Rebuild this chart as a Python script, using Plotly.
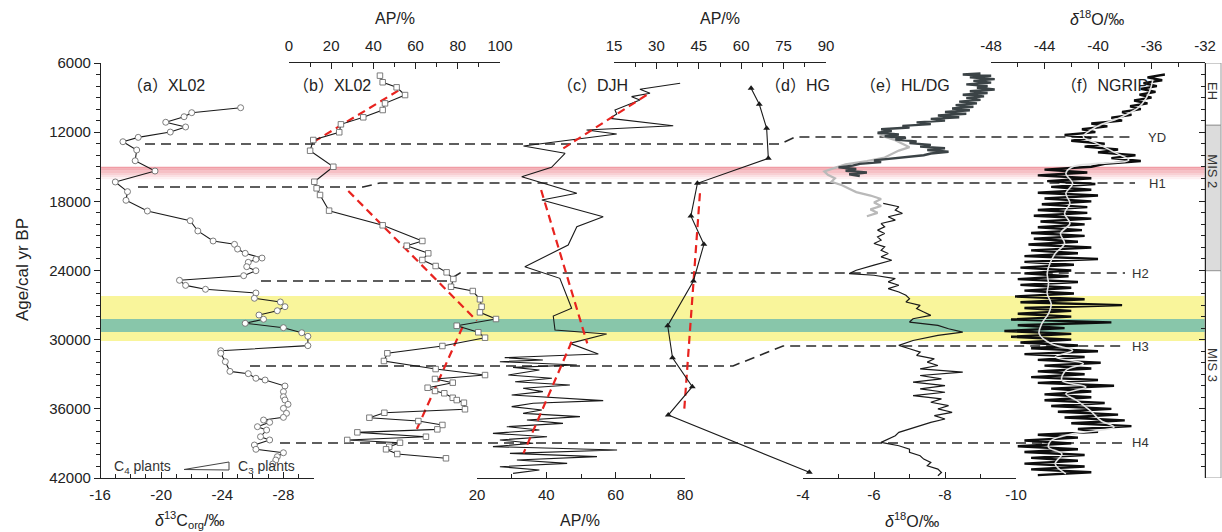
import plotly.graph_objects as go

W, H = 1222, 532
def px(x): return x / W
def py(y): return 1 - y / H

# ---------------- data ----------------
y_ticks = [6000, 12000, 18000, 24000, 30000, 36000, 42000]
y_ticktext = ["6000", "12000", "18000", "24000", "30000", "36000", "42000"]

# (a) XL02 d13C org
a_age = [9880,10310,10660,11140,11550,11990,12450,12830,13550,14480,15370,16320,17160,17910,18840,19680,20570,21440,21730,22140,
         22510,22920,23030,23290,23670,24020,24450,24850,25290,25630,25950,26410,26730,27140,27490,27860,28230,28580,28960,29400,
         29710,30520,30960,31180,31910,32750,32950,33350,33500,34020,34510,34950,35230,35610,35960,36390,36740,36970,37170,37550,
         37840,38420,38700,39140,39510,39810,40150,40440,40790]
a_d13c = [-25.2,-22.0,-21.5,-20.3,-21.6,-20.6,-18.5,-17.5,-18.4,-18.3,-19.6,-17.0,-17.8,-17.7,-19.1,-21.9,-22.4,-23.4,-24.8,-25.0,
          -25.5,-26.6,-26.2,-25.7,-25.6,-26.2,-25.4,-21.2,-21.6,-22.9,-26.2,-26.1,-27.8,-28.1,-27.6,-26.4,-26.7,-25.5,-28.0,-29.2,
          -29.6,-29.6,-23.9,-23.9,-24.2,-24.5,-25.7,-26.2,-26.8,-28.1,-28.0,-28.0,-28.1,-28.3,-28.0,-28.2,-28.0,-26.7,-27.1,-26.3,
          -26.9,-26.5,-27.1,-26.1,-26.2,-28.0,-27.6,-27.5,-27.3]
a_ticks = [-16, -20, -24, -28]
a_ticktext = ["-16", "-20", "-24", "-28"]

# (b) XL02 AP
b_age = [7100,7670,8110,8780,9500,10080,10710,11320,12010,12680,13610,15000,16300,16870,17450,18810,20080,21440,21850,22510,
         23090,23610,24160,24740,25410,25780,26500,27140,27630,28210,28790,29360,29830,30550,31180,31850,32550,33070,33410,33730,
         34170,34450,34650,35040,35240,35470,36040,36340,36770,37060,37400,37780,38040,38420,38700,38940,39290,39510,39920,40290]
b_ap = [43.1,44.4,51.0,55.0,45.5,44.4,35.2,24.6,23.8,11.5,10.0,21.0,12.0,13.1,14.7,19.0,44.4,63.2,55.8,66.0,
        63.2,69.5,74.7,77.9,76.8,87.1,90.5,91.3,90.5,98.1,79.5,89.7,92.9,72.7,46.6,45.0,69.5,92.9,69.2,77.6,
        65.7,69.2,73.6,77.6,79.5,82.9,83.4,45.2,38.1,61.3,72.7,70.3,32.4,64.9,27.6,52.6,47.5,46.0,51.3,74.4]
b_trend_age = [[8400, 12910], [17100, 28360], [28880, 38120]]
b_trend_ap = [[51.8, 11.0], [28.1, 89.0], [82.3, 59.7]]
b_ticks = [0, 20, 40, 60, 80, 100]

# (c) DJH AP
c_age = [7760,8280,8630,8920,9210,10080,10420,10800,11440,11810,12160,12390,13200,13830,15050,15860,17300,17880,19330,20200,
         21790,23670,24680,27280,27950,29160,29510,30320,31240,
         31560,31760,31910,32200,32400,32630,33070,33350,33650,33930,34220,34510,34800,35090,35290,35520,35810,36100,36390,36680,
         36970,37260,37550,37840,38130,38420,38700,38990,39280,39570,39860,40150,40440,40730,41020,41310,41600]
c_ap = [78.6,67.0,69.9,64.6,67.0,59.8,60.3,58.4,76.6,51.6,60.3,54.5,33.4,45.4,41.5,32.9,48.8,38.7,56.4,48.8,
        46.3,33.8,43.9,47.3,42.0,42.5,57.4,46.8,55.0,
        28.0,39.0,26.6,48.8,30.4,38.0,29.0,41.6,31.0,46.8,33.3,39.0,30.0,44.0,56.4,36.2,30.0,38.7,33.3,49.7,
        34.4,44.8,28.6,38.0,24.6,40.2,26.6,36.2,24.6,60.4,29.5,54.6,31.5,46.0,26.6,38.0,30.4]
c_trend_age = [[8780, 13400], [17020, 30320], [30180, 39860]]
c_trend_ap = [[68.9, 44.9], [38.5, 51.8], [47.3, 33.4]]
c_ticks = [20, 40, 60, 80]

# (d) HG AP
d_age = [8200,9580,11660,14270,16440,19270,21730,24910,28790,31570,34080,36540,41510]
d_ap = [63.5,66.4,69.0,69.6,44.5,42.2,46.8,43.1,34.0,35.7,42.7,34.2,84.1]
d_trend_age = [17300, 36250]
d_trend_ap = [45.4, 39.8]
d_ticks = [15, 30, 45, 60, 75, 90]

# (e) HL / DG speleothem d18O
e_hol_age = [6900,7000,7100,7250,7400,7550,7700,7850,8000,8150,8300,8450,8600,8750,8900,9050,9200,9350,9500,9650,
             9800,9950,10100,10250,10400,10550,10700,10850,11000,11150,11300,11450,11600,11750,11900,12050,12200,12350,12500,12650,
             12800,12950,13100,13250,13400,13550,13700,13850,14000,14150,14300,14450,14600,14750,14900,15050,15200,15350,15500,15650,15800]
e_hol = [-9.0,-8.5,-9.3,-8.7,-9.4,-8.8,-9.3,-8.6,-9.2,-8.9,-9.4,-8.7,-9.2,-8.5,-9.1,-8.6,-9.0,-8.4,-8.9,-8.3,
         -8.8,-8.2,-8.7,-8.0,-8.6,-7.8,-8.4,-7.6,-8.0,-7.2,-7.6,-6.8,-7.0,-6.2,-6.5,-6.1,-6.7,-6.3,-6.9,-6.6,
         -7.2,-7.0,-7.6,-7.3,-8.0,-7.5,-8.1,-7.6,-7.4,-6.9,-6.5,-6.0,-6.2,-5.6,-5.4,-5.0,-5.5,-5.2,-5.8,-5.3,-5.6]
e_dg_age = [12100,12400,12700,13000,13300,13600,13900,14200,14500,14800,15100,15400,15700,16000,16300,16600,16900,17200,17500,17800,
            18100,18400,18700,19000,19300]
e_dg = [-6.1,-6.3,-6.6,-6.8,-7.0,-6.7,-6.5,-6.3,-5.8,-5.2,-4.9,-4.6,-4.7,-4.9,-4.8,-5.1,-5.3,-5.5,-5.9,-6.2,
        -6.0,-6.2,-5.9,-6.1,-5.8]
e_hl_age = [18180,18470,18760,19050,19340,19630,19920,20210,20500,20790,21080,21370,21660,21950,22240,22530,22820,23110,23540,23980,
            24270,24410,24700,24990,25280,25570,25860,26150,26440,26730,27020,27310,27600,27890,28180,28470,28760,29050,29340,29630,
            30070,30500,30790,31080,31370,31660,31950,32240,32530,32820,33110,33400,33690,33980,34270,34560,34850,35140,35430,35720,
            36010,36300,36590,36880,37170,37460,37750,38040,38330,38620,38910,39200,39490,39780,40070,40360,40650,40940,41230,41520,41810]
e_hl = [-6.26,-6.7,-6.6,-6.8,-6.4,-6.6,-6.2,-6.3,-6.1,-6.3,-6.1,-6.2,-6.0,-6.3,-6.2,-6.4,-6.2,-6.5,-6.0,-5.5,
        -5.3,-6.0,-6.6,-6.4,-6.7,-6.4,-6.7,-6.9,-7.0,-6.9,-7.3,-7.2,-7.4,-7.6,-7.1,-7.0,-7.8,-8.1,-8.5,-7.8,
        -7.1,-6.7,-7.0,-7.3,-7.2,-7.7,-7.5,-7.8,-7.3,-8.5,-7.3,-7.9,-7.1,-8.0,-7.3,-8.0,-7.1,-7.9,-7.6,-8.1,
        -7.8,-8.2,-7.7,-8.0,-7.6,-7.3,-7.0,-6.7,-6.6,-6.4,-6.2,-6.7,-7.0,-7.0,-7.3,-7.4,-7.6,-7.5,-7.8,-7.9,-7.8]
e_ticks = [-4, -6, -8, -10]
e_ticktext = ["-4", "-6", "-8", "-10"]

# (f) NGRIP d18O (raw every 250 yr from 7000 and smoothed)
f_raw_age = list(range(7000, 42000, 250))
f_raw = [-35.0,-36.3,-35.2,-36.6, -35.6,-36.8,-35.7,-36.9, -36.0,-37.3,-36.3,-37.6, -36.8,-38.2,-37.5,-39.0,
         -38.2,-40.5,-39.3,-41.2, -40.2,-42.5,-40.5,-42.0, -39.5,-41.0,-38.5,-40.0, -37.2,-39.0,-36.8,-39.5,
         -40.5,-44.0,-40.8,-44.5, -40.5,-43.8,-40.2,-43.5, -40.5,-44.5,-40.0,-44.0, -40.5,-44.2,-40.8,-44.5,
         -40.8,-44.8,-40.5,-44.3, -41.0,-44.5,-41.2,-45.0, -41.0,-44.8,-41.5,-45.2, -40.5,-45.0,-41.5,-45.5,
         -40.0,-45.5,-41.8,-45.8, -42.0,-45.5,-42.2,-46.0, -41.5,-45.8,-42.0,-45.5, -41.8,-46.2,-41.0,-45.8,
         -38.2,-45.5,-42.0,-46.0, -42.0,-46.5,-39.0,-46.0, -42.5,-47.0,-42.0,-46.5, -42.0,-45.8,-41.5,-45.0,
         -40.0,-45.5,-41.0,-44.5, -39.8,-44.0,-40.5,-44.5, -41.0,-45.0,-40.0,-44.5, -38.8,-43.5,-40.5,-44.0,
         -40.5,-44.0,-39.5,-43.5, -39.0,-43.0,-38.5,-42.5, -38.0,-42.0,-37.5,-41.5, -40.0,-44.5,-41.5,-45.5,
         -42.0,-46.0,-41.5,-45.5, -41.0,-45.0,-41.5,-45.5, -41.0,-45.0,-40.5,-44.5]
f_smooth_age = [7470,8620,9790,10660,11520,12400,12970,13840,14420,15000,15580,16450,17310,18180,19050,19920,20790,21660,22530,23400,
                24270,25140,26010,26880,27740,28610,29480,30350,30930,31500,32080,32660,33530,34110,34690,35270,36140,37010,37590,38170,
                38750,39330,39910,40780,41640]
f_smooth = [-35.9,-36.2,-36.9,-38.2,-40.1,-41.1,-40.1,-38.6,-37.7,-41.9,-42.4,-41.9,-42.4,-42.1,-42.5,-42.1,-42.8,-42.5,-43.2,-43.6,
            -43.8,-43.7,-43.8,-43.5,-43.7,-44.2,-44.4,-43.5,-41.9,-43.2,-41.1,-42.4,-42.7,-40.9,-42.4,-41.6,-40.6,-39.8,-38.8,-41.9,
            -43.5,-43.7,-42.7,-43.2,-42.4]
f_ticks = [-48, -44, -40, -36, -32]
f_ticktext = ["-48", "-44", "-40", "-36", "-32"]

# events (H lines) and bands
event_names = ["YD", "H1", "H2", "H3", "H4"]
event_age_left = [13030, 16760, 24910, 32280, 38960]
event_age_right = [12420, 16410, 24220, 30550, 38960]
pink_band = [14990, 16090]
yellow_band = [26210, 30110]
green_band = [28210, 29330]
stage_names = ["EH", "MIS 2", "MIS 3"]
stage_bounds = [[6000, 11400], [11400, 24020], [24020, 42000]]

# ---------------- figure ----------------
BLACK = "#1a1a1a"
RED = "#e8231f"
fig = go.Figure()

fig.add_trace(go.Scatter(x=a_d13c, y=a_age, xaxis="x", yaxis="y", mode="lines+markers",
                         line=dict(color=BLACK, width=1.1),
                         marker=dict(symbol="circle", size=6, color="white", line=dict(color="#6e6e6e", width=0.9))))

for ta, tv in zip(b_trend_age, b_trend_ap):
    fig.add_trace(go.Scatter(x=tv, y=ta, xaxis="x2", yaxis="y", mode="lines",
                             line=dict(color=RED, width=2.2, dash="8px,5px")))
fig.add_trace(go.Scatter(x=b_ap, y=b_age, xaxis="x2", yaxis="y", mode="lines+markers",
                         line=dict(color=BLACK, width=1.1),
                         marker=dict(symbol="square", size=5.5, color="white", line=dict(color="#6e6e6e", width=0.9))))

fig.add_trace(go.Scatter(x=c_ap, y=c_age, xaxis="x3", yaxis="y", mode="lines",
                         line=dict(color=BLACK, width=1.1)))
for ta, tv in zip(c_trend_age, c_trend_ap):
    fig.add_trace(go.Scatter(x=tv, y=ta, xaxis="x3", yaxis="y", mode="lines",
                             line=dict(color=RED, width=2.2, dash="8px,5px")))

fig.add_trace(go.Scatter(x=d_trend_ap, y=d_trend_age, xaxis="x4", yaxis="y", mode="lines",
                         line=dict(color=RED, width=2.2, dash="8px,5px")))
fig.add_trace(go.Scatter(x=d_ap, y=d_age, xaxis="x4", yaxis="y", mode="lines+markers",
                         line=dict(color=BLACK, width=1.1),
                         marker=dict(symbol="triangle-up", size=6, color=BLACK)))

fig.add_trace(go.Scatter(x=e_dg, y=e_dg_age, xaxis="x5", yaxis="y", mode="lines",
                         line=dict(color="#b9b9b9", width=2.2)))
fig.add_trace(go.Scatter(x=e_hol, y=e_hol_age, xaxis="x5", yaxis="y", mode="lines",
                         line=dict(color="#3b4346", width=2.4)))
fig.add_trace(go.Scatter(x=e_hl, y=e_hl_age, xaxis="x5", yaxis="y", mode="lines",
                         line=dict(color=BLACK, width=1.2)))

fig.add_trace(go.Scatter(x=f_raw, y=f_raw_age, xaxis="x6", yaxis="y", mode="lines",
                         line=dict(color="#0d0d0d", width=2.4)))
fig.add_trace(go.Scatter(x=f_smooth, y=f_smooth_age, xaxis="x6", yaxis="y", mode="lines",
                         line=dict(color="#e4e4e4", width=1.6, shape="spline")))
fig.add_trace(go.Scatter(x=[None], y=[None], xaxis="x6", yaxis="y2", mode="lines", showlegend=False))

AX = dict(showline=True, linecolor="#222", linewidth=1.2, showgrid=False, zeroline=False, automargin=False,
          tickcolor="#222", tickwidth=1.2, tickfont=dict(size=15, color="#222"))

def xax(x0, x1, rng, side, ticks, ticktext, minor_tick0, minor_dtick):
    d = dict(AX)
    d.update(domain=[px(x0), px(x1)], range=rng, side=side, anchor="y",
             ticks="inside", ticklen=6, tickmode="array", tickvals=ticks, ticktext=ticktext,
             ticklabelstandoff=5 if side == "top" else 3,
             minor=dict(ticks="inside", ticklen=3.5, tickmode="linear", tick0=minor_tick0, dtick=minor_dtick,
                        tickcolor="#222", tickwidth=1))
    return d

ydom = [py(478), py(63)]
layout_axes = dict(
    xaxis=xax(100, 314, [-16, -30], "bottom", a_ticks, a_ticktext, -16, -2),
    xaxis2=xax(289, 500, [0, 100], "top", b_ticks, [str(v) for v in b_ticks], 0, 10),
    xaxis3=xax(477, 685, [20, 80], "bottom", c_ticks, [str(v) for v in c_ticks], 20, 10),
    xaxis4=xax(614, 826, [15, 90], "top", d_ticks, [str(v) for v in d_ticks], 15, 7.5),
    xaxis5=xax(803, 1016, [-4, -10], "bottom", e_ticks, e_ticktext, -4, -1),
    xaxis6=xax(991, 1205, [-48, -32], "top", f_ticks, f_ticktext, -48, 2),
)
yax = dict(AX)
yax.update(domain=ydom, range=[42000, 6000], anchor="free", position=px(100), side="left",
           ticks="outside", ticklen=6, tickmode="array", tickvals=y_ticks, ticktext=y_ticktext,
           minor=dict(ticks="outside", ticklen=3.5, tickmode="linear", tick0=6000, dtick=1000,
                      tickcolor="#222", tickwidth=1))
yax2 = dict(AX)
yax2.update(overlaying="y", range=[42000, 6000], anchor="free", position=px(1205), side="right",
            ticks="inside", ticklen=6, tickmode="array", tickvals=y_ticks, showticklabels=False,
            minor=dict(ticks="inside", ticklen=3.5, tickmode="linear", tick0=6000, dtick=1000,
                       tickcolor="#222", tickwidth=1))

shapes = []
# pink gradient band
pink_cols = ["#f09ca5", "#f3aeb5", "#f6c0c5", "#f8d0d4", "#fbe0e3", "#fdeff1"]
n = len(pink_cols)
for i, c in enumerate(pink_cols):
    y0 = pink_band[0] + (pink_band[1] - pink_band[0]) * i / n
    y1 = pink_band[0] + (pink_band[1] - pink_band[0]) * (i + 1) / n
    shapes.append(dict(type="rect", xref="paper", yref="y", x0=px(100), x1=px(1205), y0=y0, y1=y1,
                       fillcolor=c, line=dict(width=0), layer="below"))
shapes.append(dict(type="rect", xref="paper", yref="y", x0=px(100), x1=px(1205), y0=yellow_band[0], y1=yellow_band[1],
                   fillcolor="#f9f59b", line=dict(width=0), layer="below"))
shapes.append(dict(type="rect", xref="paper", yref="y", x0=px(100), x1=px(1205), y0=green_band[0], y1=green_band[1],
                   fillcolor="#88c6aa", line=dict(width=0), layer="below"))

# event dashed lines (x layout positions in px: start, bend start, bend end, end)
ev_x = [(145, 780, 795, 1133), (138, 363, 380, 1135), (261, 447, 460, 1125), (250, 733, 783, 1125), (280, 700, 700, 1125)]
ev_lab_x = [1157, 1157, 1140, 1140, 1140]
annotations = []
for name, al, ar, (xs, xb0, xb1, xe), lx in zip(event_names, event_age_left, event_age_right, ev_x, ev_lab_x):
    path = f"M {px(xs)},{al} L {px(xb0)},{al} L {px(xb1)},{ar} L {px(xe)},{ar}"
    shapes.append(dict(type="path", xref="paper", yref="y", path=path,
                       line=dict(color="#2a2a2a", width=1.6, dash="10px,6px"), layer="below"))
    annotations.append(dict(x=px(lx), y=ar, xref="paper", yref="y", text=name, showarrow=False,
                            font=dict(size=13, color="#333"), xanchor="center", yanchor="middle"))

# stage boxes on right
stage_fill = ["white", "#dcdcdc", "white"]
for nm, (s0, s1), fc in zip(stage_names, stage_bounds, stage_fill):
    shapes.append(dict(type="rect", xref="paper", yref="y", x0=px(1205), x1=px(1221), y0=s0, y1=s1,
                       fillcolor=fc, line=dict(color="#9a9a9a", width=1), layer="below"))
stage_label_age = [8430, 15400, 32200]
for nm, ag in zip(stage_names, stage_label_age):
    annotations.append(dict(x=px(1213), y=ag, xref="paper", yref="y", text=nm, showarrow=False, textangle=90,
                            font=dict(size=13, color="#333"), xanchor="center", yanchor="middle"))

# legend wedge C4 -> C3
shapes.append(dict(type="path", xref="paper", yref="paper",
                   path=f"M {px(184)},{py(469.5)} L {px(229)},{py(462)} L {px(229)},{py(470)} Z",
                   line=dict(color="#444", width=1), fillcolor="rgba(0,0,0,0)"))

FONT_CJK = "Liberation Sans, Noto Sans CJK SC, Arial, sans-serif"
def ann(x, y, text, size=16, angle=0, color="#222"):
    annotations.append(dict(x=px(x), y=py(y), xref="paper", yref="paper", text=text, showarrow=False,
                            textangle=angle, font=dict(size=size, color=color, family=FONT_CJK),
                            xanchor="center", yanchor="middle"))

ann(22, 270, "Age/cal yr BP", 17, -90)
ann(395, 18, "AP/%", 16)
ann(720, 18, "AP/%", 16)
ann(1097, 18, "<i>δ</i><sup>18</sup>O/‰", 16)
ann(190, 520, "<i>δ</i><sup>13</sup>C<sub>org</sub>/‰", 16)
ann(580, 520, "AP/%", 16)
ann(912, 520, "<i>δ</i><sup>18</sup>O/‰", 16)
ann(166, 86, "（a）XL02", 16)
ann(332, 86, "（b）XL02", 16)
ann(592, 86, "（c）DJH", 16)
ann(797, 86, "（d）HG", 16)
ann(905, 86, "（e）HL/DG", 16)
ann(1104, 86, "（f）NGRIP", 16)
ann(142, 467, "C<sub>4</sub> plants", 14, 0, "#333")
ann(266, 467, "C<sub>3</sub> plants", 14, 0, "#333")

fig.update_layout(width=W, height=H, margin=dict(l=0, r=0, t=0, b=0, pad=0, autoexpand=False),
                  paper_bgcolor="white", plot_bgcolor="rgba(0,0,0,0)", showlegend=False,
                  font=dict(family="Liberation Sans, Arial, sans-serif", color="#222", size=15),
                  yaxis=yax, yaxis2=yax2, shapes=shapes, annotations=annotations, **layout_axes)

fig.write_html("out.html")
